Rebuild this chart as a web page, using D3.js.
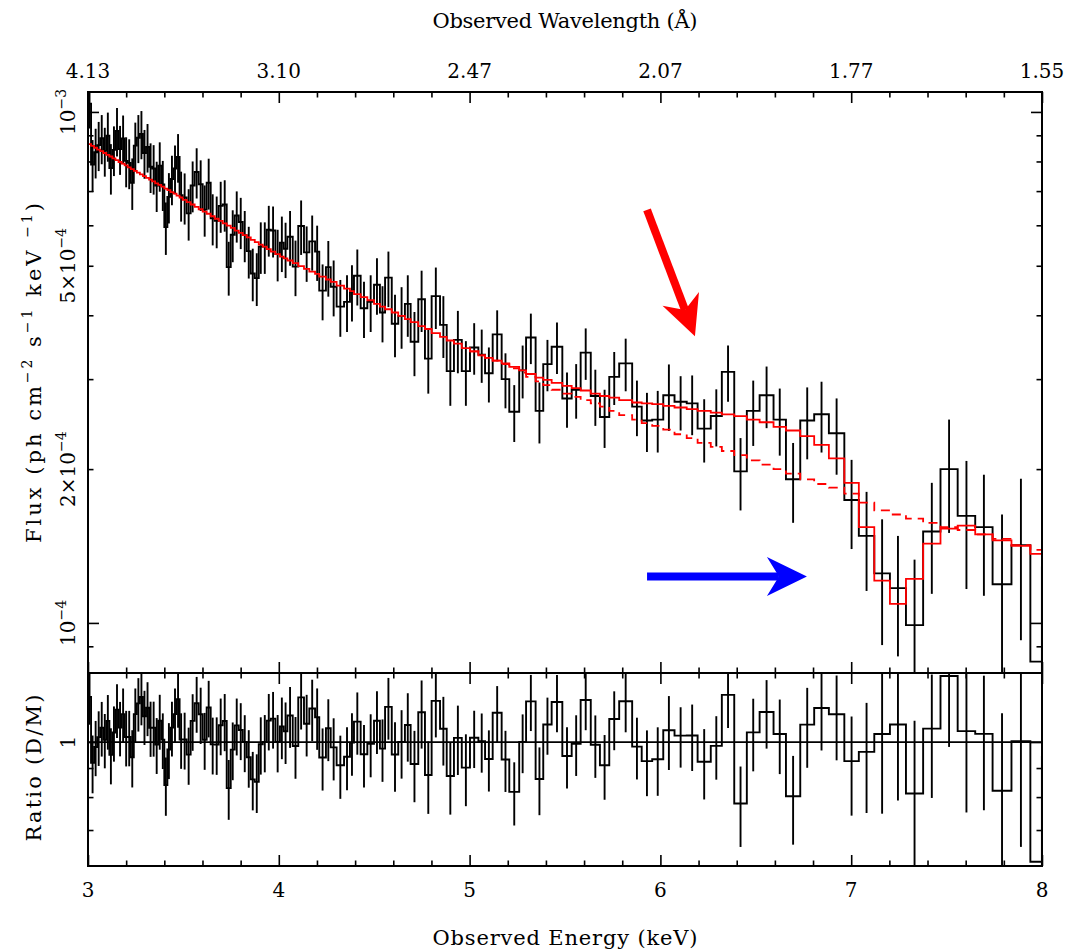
<!DOCTYPE html>
<html>
<head>
<meta charset="utf-8">
<script src="https://cdn.jsdelivr.net/npm/d3@7/dist/d3.min.js"></script>
<style>
body{margin:0;background:#fff;}
text{font-family:"DejaVu Serif",serif;fill:#000;}
</style>
</head>
<body>
<div id="chart"></div>
<script>
// bin edges in keV (n+1 values)
var edges=[3.000,3.016,3.032,3.048,3.064,3.080,3.096,3.112,3.128,3.144,3.160,3.176,3.192,3.208,3.224,3.240,3.256,3.272,3.288,3.304,3.320,3.336,3.352,3.368,3.384,3.400,3.416,3.432,3.448,3.464,3.480,
  3.496,3.517,3.538,3.559,3.580,3.601,3.622,3.643,3.664,3.685,3.706,3.727,3.748,3.769,3.790,3.811,3.832,3.853,3.874,3.895,3.916,3.937,3.958,3.982,
  4.006,4.026,4.045,4.073,4.102,4.132,4.160,4.190,4.212,4.247,4.272,4.303,4.342,4.373,4.394,4.429,4.464,4.499,4.530,4.557,4.592,4.626,4.661,4.691,4.731,4.766,4.801,4.845,4.880,4.918,4.959,
  5.002,5.046,5.081,5.121,5.168,5.208,5.260,5.296,5.346,5.386,5.430,5.486,5.535,5.582,5.635,5.683,5.732,5.784,5.852,5.902,
  5.957,6.015,6.074,6.138,6.195,6.264,6.322,6.387,6.453,6.520,6.593,6.658,6.733,6.806,6.883,
  6.964,7.040,7.121,7.203,7.287,7.377,7.468,7.558,7.650,7.741,7.840,7.939,8.060];

// unfolded flux, units of 1e-4 ph cm^-2 s^-1 keV^-1
var flux=[10.38,7.89,8.34,8.61,8.88,8.39,8.98,7.77,8.43,9.18,8.46,8.87,8.02,7.95,7.27,8.59,8.90,9.06,8.31,8.54,7.81,7.75,7.18,7.85,7.21,5.95,6.82,7.39,7.75,8.16,6.87,
  6.80,6.33,7.18,7.63,7.22,6.44,7.27,6.19,6.12,6.55,6.59,4.97,5.75,6.27,6.09,5.74,5.34,4.83,4.73,5.45,5.45,5.88,5.86,5.27,
  5.55,5.40,5.70,4.98,5.98,5.31,5.58,5.33,4.47,4.97,4.55,4.16,4.25,4.45,4.78,4.13,4.25,4.59,4.05,4.74,3.85,3.99,4.21,3.55,4.30,3.29,4.36,3.83,3.11,3.58,3.11,
  3.46,3.35,3.08,3.67,3.00,2.59,3.12,3.62,2.60,3.21,3.47,2.75,2.86,3.38,2.78,2.53,3.03,3.22,2.65,2.49,
  2.50,2.79,2.71,2.69,2.40,2.54,3.10,1.98,2.60,2.79,2.50,1.91,2.49,2.56,2.35,
  1.74,1.48,1.25,1.17,0.99,1.51,2.00,1.62,1.54,1.19,1.42,0.84];

var fluxErr=[1.10,0.92,0.93,0.95,0.98,0.92,0.99,0.88,0.94,1.00,0.93,0.97,0.90,0.89,0.84,0.94,0.96,0.98,0.91,0.93,0.87,0.86,0.81,0.87,0.81,0.70,0.77,0.82,0.85,0.89,0.77,
  0.78,0.73,0.82,0.86,0.82,0.74,0.83,0.71,0.71,0.75,0.76,0.60,0.67,0.72,0.70,0.66,0.62,0.57,0.56,0.63,0.63,0.67,0.67,0.61,
  0.69,0.67,0.70,0.62,0.73,0.66,0.69,0.66,0.56,0.62,0.57,0.53,0.54,0.56,0.60,0.52,0.54,0.58,0.51,0.59,0.54,0.55,0.58,0.51,0.59,0.48,0.60,0.53,0.45,0.50,0.45,
  0.40,0.40,0.38,0.42,0.37,0.33,0.37,0.41,0.355,0.37,0.40,0.34,0.35,0.39,0.35,0.33,0.36,0.38,0.33,0.33,
  0.345,0.415,0.33,0.36,0.34,0.325,0.39,0.32,0.38,0.385,0.375,0.34,0.40,0.405,0.40,
  0.345,0.325,0.345,0.31,0.34,0.37,0.50,0.455,0.41,0.44,0.495,0.45];

// full model (solid red)
var model=[8.65,8.58,8.51,8.44,8.38,8.31,8.24,8.18,8.11,8.05,7.98,7.92,7.86,7.79,7.73,7.67,7.61,7.55,7.49,7.43,7.37,7.31,7.25,7.20,7.14,7.08,7.03,6.97,6.92,6.86,6.80,
  6.73,6.66,6.59,6.52,6.45,6.38,6.32,6.25,6.18,6.12,6.05,5.99,5.93,5.86,5.80,5.74,5.68,5.62,5.56,5.50,5.45,5.39,5.33,5.27,
  5.21,5.17,5.12,5.06,4.99,4.93,4.87,4.82,4.76,4.70,4.65,4.57,4.51,4.46,4.40,4.34,4.28,4.21,4.16,4.11,4.05,3.99,3.93,3.88,3.81,3.76,3.69,3.63,3.57,3.52,3.45,
  3.40,3.34,3.30,3.26,3.22,3.17,3.12,3.07,3.02,2.99,2.95,2.91,2.88,2.85,2.81,2.78,2.76,2.73,2.70,2.69,
  2.68,2.66,2.64,2.62,2.60,2.58,2.56,2.54,2.50,2.47,2.42,2.38,2.32,2.23,2.10,
  1.88,1.54,1.21,1.09,1.22,1.43,1.53,1.55,1.49,1.45,1.415,1.365];

// continuum only (dashed red), from the 5.002 keV bin on
var contStart=5.002;
var continuum=[3.40,3.34,3.30,3.26,3.21,3.15,3.09,3.03,2.97,2.92,2.86,2.81,2.77,2.73,2.69,2.65,2.60,2.55,2.50,2.46,
  2.43,2.39,2.34,2.30,2.25,2.21,2.17,2.13,2.08,2.04,2.00,1.96,1.91,1.87,1.84,
  1.79,1.72,1.66,1.63,1.60,1.57,1.54,1.52,1.49,1.46,1.42,1.39];

var energyTicks=[3,4,5,6,7,8];
var waveLabels=["4.13","3.10","2.47","2.07","1.77","1.55"];
var fluxLabelVals=[10,5,2,1];
var fluxLabelMant=["","5\u00d7","2\u00d7",""];
var fluxLabelExp=["\u22123","\u22124","\u22124","\u22124"];
var fluxMajor=[1,10];
var fluxMinor=[0.9,2,3,4,5,6,7,8,9];
var ratioMinor=[0.7,0.8,0.9];

// annotation arrows [energy, flux]
var arrowColors=["#ff0000","#0000ff"];
var arrowFrom=[[5.930,6.43],[5.930,1.232]];
var arrowTo=[[6.181,3.64],[6.768,1.232]];

var W=1072,H=950;
var L=88,R=1042,T=92,MB=673,RB=866;

var svg=d3.select("#chart").append("svg").attr("width",W).attr("height",H)
  .style("background","#fff");

var x=d3.scaleLinear().domain([3,8]).range([L,R]);
var y=d3.scaleLog().domain([0.798,10.94]).range([MB,T]);
var yr=d3.scaleLog().domain([0.605,1.323]).range([RB,MB]);

var bins=flux.map(function(f,i){
  return {lo:edges[i],hi:edges[i+1],mid:(edges[i]+edges[i+1])/2,f:f,e:fluxErr[i],m:model[i]};
});
var contBins=bins.filter(function(b){return b.lo>=contStart-1e-6;})
  .map(function(b,i){return {lo:b.lo,hi:b.hi,v:continuum[i]};});

var defs=svg.append("defs");
defs.append("clipPath").attr("id","clipMain").append("rect")
  .attr("x",L).attr("y",T).attr("width",R-L).attr("height",MB-T);
defs.append("clipPath").attr("id","clipRatio").append("rect")
  .attr("x",L).attr("y",MB).attr("width",R-L).attr("height",RB-MB);

function steps(arr,val){
  var pts=[];
  arr.forEach(function(b){pts.push([b.lo,val(b)]);pts.push([b.hi,val(b)]);});
  return pts;
}

// ---- main panel
var gm=svg.append("g").attr("clip-path","url(#clipMain)");
var lineM=d3.line().x(function(d){return x(d[0]);}).y(function(d){return y(d[1]);});

gm.selectAll(".err").data(bins).enter().append("line")
  .attr("x1",function(d){return x(d.mid);}).attr("x2",function(d){return x(d.mid);})
  .attr("y1",function(d){return y(d.f+d.e);}).attr("y2",function(d){return y(Math.max(d.f-d.e,0.5));})
  .attr("stroke","#000").attr("stroke-width",1.9);
gm.append("path").attr("d",lineM(steps(bins,function(b){return b.f;})))
  .attr("fill","none").attr("stroke","#000").attr("stroke-width",1.9);
gm.append("path").attr("d",lineM(steps(contBins,function(b){return b.v;})))
  .attr("fill","none").attr("stroke","#ff0000").attr("stroke-width",1.8).attr("stroke-dasharray","9,6");
gm.append("path").attr("d",lineM(steps(bins,function(b){return b.m;})))
  .attr("fill","none").attr("stroke","#ff0000").attr("stroke-width",1.8);

// ---- ratio panel
var gr=svg.append("g").attr("clip-path","url(#clipRatio)");
var lineR=d3.line().x(function(d){return x(d[0]);}).y(function(d){return yr(d[1]);});
gr.selectAll(".rerr").data(bins).enter().append("line")
  .attr("x1",function(d){return x(d.mid);}).attr("x2",function(d){return x(d.mid);})
  .attr("y1",function(d){return yr((d.f+d.e)/d.m);}).attr("y2",function(d){return yr(Math.max((d.f-d.e)/d.m,0.3));})
  .attr("stroke","#000").attr("stroke-width",1.9);
gr.append("path").attr("d",lineR(steps(bins,function(b){return b.f/b.m;})))
  .attr("fill","none").attr("stroke","#000").attr("stroke-width",1.9);
gr.append("line").attr("x1",L).attr("x2",R).attr("y1",yr(1)).attr("y2",yr(1))
  .attr("stroke","#000").attr("stroke-width",1.8);

// ---- axes / ticks
var minorE=d3.range(3.2,8,0.2).filter(function(v){return Math.abs(v-Math.round(v))>0.01;});
function tickAxis(axisFn,scale,vals,len,tx,ty){
  var a=axisFn(scale).tickValues(vals).tickSize(-len).tickFormat("");
  var g=svg.append("g").attr("transform","translate("+tx+","+ty+")").call(a);
  g.select(".domain").remove();
  g.selectAll(".tick line").attr("stroke","#000").attr("stroke-width",1.6);
  return g;
}
[[T,MB],[MB,RB]].forEach(function(p){
  tickAxis(d3.axisTop,x,energyTicks,11,0,p[0]);
  tickAxis(d3.axisTop,x,minorE,5.5,0,p[0]);
  tickAxis(d3.axisBottom,x,energyTicks,11,0,p[1]);
  tickAxis(d3.axisBottom,x,minorE,5.5,0,p[1]);
});
tickAxis(d3.axisLeft,y,fluxMajor,11,L,0);
tickAxis(d3.axisLeft,y,fluxMinor,5.5,L,0);
tickAxis(d3.axisRight,y,fluxMajor,11,R,0);
tickAxis(d3.axisRight,y,fluxMinor,5.5,R,0);
tickAxis(d3.axisLeft,yr,[1],11,L,0);
tickAxis(d3.axisLeft,yr,ratioMinor,5.5,L,0);
tickAxis(d3.axisRight,yr,[1],11,R,0);
tickAxis(d3.axisRight,yr,ratioMinor,5.5,R,0);

svg.append("rect").attr("x",L).attr("y",T).attr("width",R-L).attr("height",RB-T)
  .attr("fill","none").attr("stroke","#000").attr("stroke-width",2);
svg.append("line").attr("x1",L).attr("x2",R).attr("y1",MB).attr("y2",MB)
  .attr("stroke","#000").attr("stroke-width",2);

// labels
svg.selectAll(".elab").data(energyTicks).enter().append("text")
  .attr("x",function(d){return x(d);}).attr("y",897)
  .attr("text-anchor","middle").attr("font-size",20).text(function(d){return d;});
svg.selectAll(".wlab").data(energyTicks).enter().append("text")
  .attr("x",function(d){return x(d);}).attr("y",78)
  .attr("text-anchor","middle").attr("font-size",20).text(function(d,i){return waveLabels[i];});
svg.append("text").attr("x",(L+R)/2).attr("y",945).attr("text-anchor","middle")
  .attr("font-size",21).attr("textLength",265).attr("lengthAdjust","spacing")
  .text("Observed Energy (keV)");
svg.append("text").attr("x",(L+R)/2).attr("y",28).attr("text-anchor","middle")
  .attr("font-size",21).attr("textLength",265).attr("lengthAdjust","spacing")
  .text("Observed Wavelength (\u00c5)");

fluxLabelVals.forEach(function(v,i){
  var t=svg.append("text").attr("transform","translate(75,"+y(v)+") rotate(-90)")
    .attr("text-anchor","middle").attr("font-size",20);
  t.append("tspan").text(fluxLabelMant[i]+"10");
  t.append("tspan").attr("dy",-9).attr("font-size",14).text(fluxLabelExp[i]);
});
svg.append("text").attr("transform","translate(75,"+yr(1)+") rotate(-90)")
  .attr("text-anchor","middle").attr("font-size",20).text("1");

var ft=svg.append("text").attr("transform","translate(41,373) rotate(-90)")
  .attr("text-anchor","middle").attr("font-size",21)
  .attr("textLength",340).attr("lengthAdjust","spacing");
ft.append("tspan").text("Flux (ph cm");
ft.append("tspan").attr("dy",-9).attr("font-size",14).text("\u22122");
ft.append("tspan").attr("dy",9).text(" s");
ft.append("tspan").attr("dy",-9).attr("font-size",14).text("\u22121");
ft.append("tspan").attr("dy",9).text("  keV ");
ft.append("tspan").attr("dy",-9).attr("font-size",14).text("\u22121");
ft.append("tspan").attr("dy",9).text(")");

svg.append("text").attr("transform","translate(41,768) rotate(-90)")
  .attr("text-anchor","middle").attr("font-size",21)
  .attr("textLength",147).attr("lengthAdjust","spacing").text("Ratio (D/M)");

// arrows
arrowFrom.forEach(function(p,i){
  var x0=x(p[0]),y0=y(p[1]),x1=x(arrowTo[i][0]),y1=y(arrowTo[i][1]);
  var dx=x1-x0,dy=y1-y0,len=Math.sqrt(dx*dx+dy*dy),ux=dx/len,uy=dy/len,px=-uy,py=ux;
  var hl=40,hw=19.5,nk=28;
  svg.append("line").attr("x1",x0).attr("y1",y0)
    .attr("x2",x1-ux*nk).attr("y2",y1-uy*nk)
    .attr("stroke",arrowColors[i]).attr("stroke-width",8);
  var pts=[[x1,y1],[x1-ux*hl+px*hw,y1-uy*hl+py*hw],[x1-ux*nk,y1-uy*nk],[x1-ux*hl-px*hw,y1-uy*hl-py*hw]];
  svg.append("polygon").attr("points",pts.map(function(q){return q.join(",");}).join(" "))
    .attr("fill",arrowColors[i]);
});
</script>
</body>
</html>
